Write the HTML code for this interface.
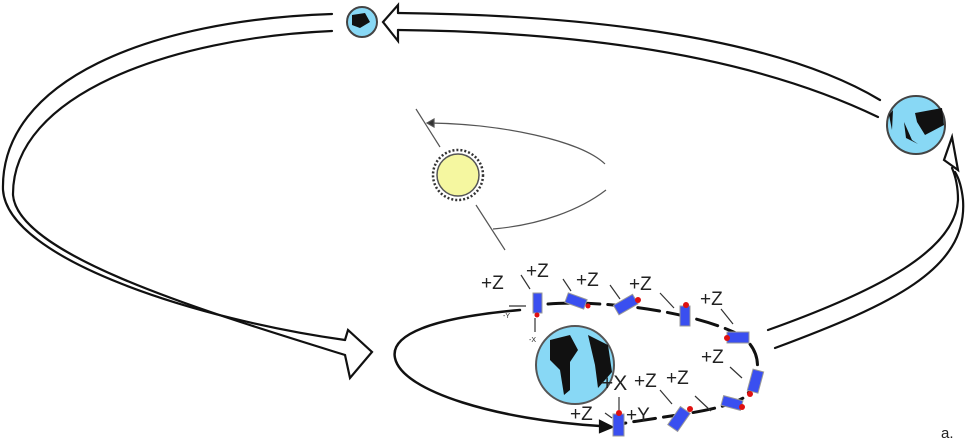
<!DOCTYPE html>
<html><head><style>html,body{margin:0;padding:0;background:#fff}svg{display:block}text{font-family:"Liberation Sans",sans-serif;fill:#222}</style></head>
<body>
<svg width="967" height="443" viewBox="0 0 967 443" xmlns="http://www.w3.org/2000/svg">
<g fill="none" stroke="#111" stroke-width="2.2" stroke-linecap="round">
<!-- top band -->
<path d="M398,13 C600,15 780,40 880,100"/>
<path d="M398,30 C600,32 760,60 878,117"/>
<path d="M398,13 L398,5 L383,22 L398,41 L398,30"/>
<!-- left band -->
<path d="M332,14 C150,20 0,80 3,190 C8,260 200,320 345,340"/>
<path d="M332,31 C170,38 12,95 13,195 C18,255 200,310 345,355"/>
<path d="M345,340 L348,330 L372,352 L350,378 L345,355"/>
<!-- lower right band -->
<path d="M768,330 C880,290 955,250 958,200 C958,185 955,175 952,168"/>
<path d="M775,348 C890,305 968,270 963,200 C962,190 960,180 955,172"/>
<path d="M944,160 L952,137 L958,170 Z" fill="#fff"/>
<!-- inner loop -->
<path d="M520,310 C430,318 390,335 395,358 C402,392 500,420 600,426" stroke-width="2.5"/>
<path d="M600,421 L612,427 L600,432 Z" fill="#111"/>
<!-- satellite orbit -->
<path d="M548,304 C600,300 690,310 740,335 C765,352 760,380 745,397 C720,412 670,415 620,424" stroke-width="3" stroke-dasharray="22,8"/>
</g>
<!-- sun lines -->
<g fill="none" stroke="#555" stroke-width="1.2">
<path d="M416,109 L440,147"/><path d="M476,205 L505,250"/>
<path d="M430,123 C500,124 580,140 605,164"/>
<path d="M606,190 C580,210 540,225 493,229"/>
<path d="M427,123 L434,119 L434,127 Z" fill="#333"/>
</g>
<circle cx="458" cy="175" r="25" fill="#fff" stroke="#333" stroke-width="2.5" stroke-dasharray="2,2"/>
<circle cx="458" cy="175" r="21" fill="#f5f7a0" stroke="#555" stroke-width="1.5"/>
<!-- earths -->
<circle cx="362" cy="22" r="15" fill="#88d8f5" stroke="#444" stroke-width="2"/>
<path d="M352,15 L365,13 L370,22 L360,28 L352,25 Z" fill="#111"/>
<circle cx="916" cy="125" r="29" fill="#88d8f5" stroke="#444" stroke-width="2"/>
<path d="M915,113 L942,108 L944,125 L925,135 L917,122 Z M904,122 L912,140 L918,144 L906,138 Z M889,115 L893,110 L892,130 Z" fill="#111"/>
<circle cx="575" cy="365" r="39" fill="#88d8f5" stroke="#555" stroke-width="2"/>
<path d="M550,340 L570,335 L578,350 L570,362 L570,390 L564,395 L560,370 L550,360 Z M588,335 L608,345 L612,372 L598,388 L595,365 Z" fill="#111"/>
<!-- satellites -->
<g fill="#3a4ff0" stroke="#999" stroke-width="1">
<rect x="533" y="293" width="9" height="20"/>
<rect x="566" y="296" width="20" height="10" transform="rotate(20 576 301)"/>
<rect x="615" y="299" width="22" height="11" transform="rotate(-30 626 305)"/>
<rect x="680" y="306" width="10" height="20"/>
<rect x="727" y="332" width="22" height="11"/>
<rect x="750" y="370" width="11" height="22" transform="rotate(15 755 381)"/>
<rect x="722" y="398" width="20" height="10" transform="rotate(15 732 403)"/>
<rect x="673" y="408" width="12" height="22" transform="rotate(35 679 419)"/>
<rect x="613" y="414" width="11" height="22"/>
</g>
<g fill="#e01010">
<circle cx="537" cy="315" r="2.5"/><circle cx="588" cy="306" r="2.5"/><circle cx="638" cy="300" r="3"/>
<circle cx="686" cy="305" r="3"/><circle cx="727" cy="338" r="3"/><circle cx="750" cy="394" r="3"/>
<circle cx="742" cy="407" r="3"/><circle cx="690" cy="409" r="3"/><circle cx="619" cy="413" r="3"/>
</g>
<!-- label lines -->
<g stroke="#333" stroke-width="1.2">
<path d="M521,275 L530,289"/><path d="M563,279 L571,291"/><path d="M610,285 L620,299"/>
<path d="M660,293 L674,308"/><path d="M721,309 L733,324"/><path d="M730,367 L742,378"/>
<path d="M660,390 L672,404"/><path d="M695,396 L711,411"/><path d="M605,413 L612,418"/>
<path d="M619,397 L619,410"/><path d="M509,306 L526,306"/><path d="M535,318 L535,332"/>
</g>
<g font-size="19">
<text x="481" y="289">+Z</text><text x="526" y="277">+Z</text><text x="576" y="286">+Z</text>
<text x="629" y="290">+Z</text><text x="700" y="305">+Z</text><text x="701" y="363">+Z</text>
<text x="634" y="387">+Z</text><text x="666" y="384">+Z</text><text x="570" y="420">+Z</text>
<text x="626" y="421">+Y</text><text x="601" y="390" font-size="21">+X</text>
<text x="941" y="438" font-size="15">a.</text>
</g>
<text x="503" y="318" font-size="7">-Y</text><text x="529" y="342" font-size="7">-X</text>
</svg>
</body></html>
